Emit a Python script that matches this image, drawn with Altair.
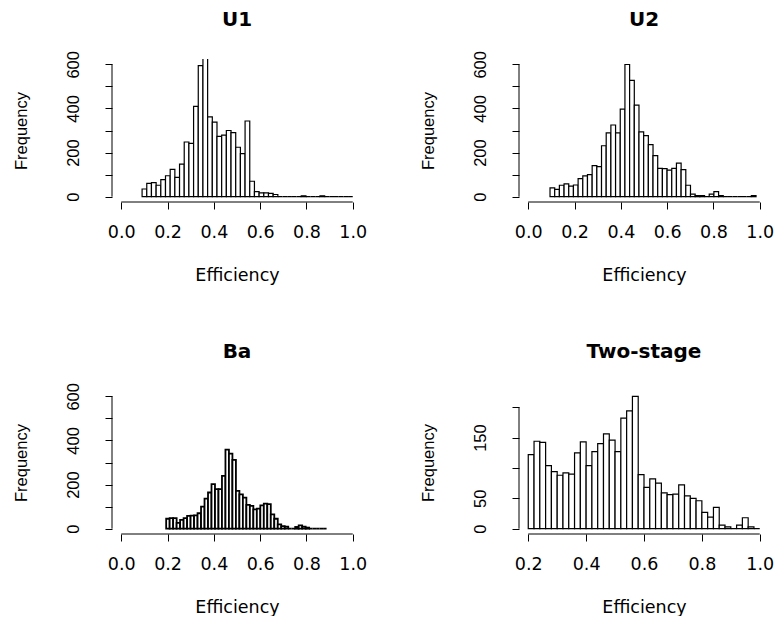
import altair as alt
import pandas as pd

# Bin counts of each efficiency histogram, left to right.
# Bins are equal-width between the given lower and upper break.
u1_counts = [35, 60, 64, 52, 77, 95, 124, 88, 148, 248, 242, 409, 594, 650, 362,
             338, 273, 279, 300, 290, 224, 195, 343, 70, 23, 17, 17, 15, 10, 0,
             0, 0, 0, 0, 4, 0, 0, 0, 4, 0, 0, 0, 0, 0, 0]
u1_breaks = (0.09, 1.0)

u2_counts = [40, 33, 52, 58, 48, 53, 82, 94, 100, 141, 136, 231, 289, 325, 289,
             397, 599, 527, 415, 294, 277, 236, 186, 128, 127, 120, 128, 152, 123, 52,
             12, 5, 5, 0, 12, 23, 5, 0, 0, 0, 0, 0, 0, 5]
u2_breaks = (0.094, 0.984)

ba_counts = [45, 48, 48, 26, 40, 48, 58, 59, 60, 70, 100, 136, 164, 202, 179,
             179, 239, 358, 340, 312, 171, 156, 141, 108, 103, 88, 91, 106, 114, 111,
             65, 45, 20, 12, 9, 0, 0, 8, 15, 9, 5, 0, 0, 0, 0, 0]
ba_breaks = (0.194, 0.887)

two_counts = [122, 144, 142, 104, 94, 88, 92, 90, 125, 143, 104, 127, 140, 156, 146,
              127, 182, 194, 218, 89, 68, 82, 75, 59, 56, 57, 72, 54, 50, 46,
              27, 19, 35, 6, 3, 0, 6, 18, 3, 0]
two_breaks = (0.2, 1.0)

# Axis ticks and which tick values carry a printed label
eff_ticks = [0.0, 0.2, 0.4, 0.6, 0.8, 1.0]
eff_ticks_two = [0.2, 0.4, 0.6, 0.8, 1.0]
freq_ticks = [0, 100, 200, 300, 400, 500, 600]
freq_shown = [0, 200, 400, 600]
freq_ticks_two = [0, 50, 100, 150, 200]
freq_shown_two = [0, 50, 150]

H_FONT = "DejaVu Sans"
V_FONT = "Liberation Sans"
PANEL_W = 250
PANEL_H = 143


def bins_frame(counts, breaks):
    lo, hi = breaks
    n = len(counts)
    w = (hi - lo) / n
    return pd.DataFrame({
        "start": [lo + i * w for i in range(n)],
        "end": [lo + (i + 1) * w for i in range(n)],
        "count": counts,
    })


def extend(lim):
    span = lim[1] - lim[0]
    return [lim[0] - 0.04 * span, lim[1] + 0.04 * span]


def panel(title, counts, breaks, xlim, xticks, ylim, yticks, yshown, bar_stroke=1.2):
    df = bins_frame(counts, breaks)
    xdom = extend(xlim)
    ydom = extend(ylim)
    shown = ",".join(str(v) for v in yshown)

    x_scale = alt.Scale(domain=xdom, nice=False, zero=False)
    y_scale = alt.Scale(domain=ydom, nice=False, zero=False)
    x_axis = alt.Axis(
        values=xticks, format=".1f", title="Efficiency",
        domain=False, grid=False, tickSize=7, tickColor="black",
        tickWidth=1, labelFont=H_FONT, labelFontSize=17.5,
        labelColor="black", labelPadding=14, labelFlush=False,
        labelOverlap=False, titleFont=H_FONT, titleFontSize=17.5,
        titleFontWeight="normal", titleColor="black", titlePadding=26,
    )
    y_axis = alt.Axis(
        values=yticks,
        labelExpr=f"indexof([{shown}], datum.value) >= 0 ? datum.label : ''",
        title="Frequency", domain=False, grid=False, tickSize=7,
        tickColor="black", tickWidth=1, labelAngle=270,
        labelAlign="center", labelBaseline="bottom", labelFont=V_FONT,
        labelFontSize=16.5, labelColor="black", labelPadding=24,
        labelFlush=False, labelOverlap=False, titleFont=V_FONT,
        titleFontSize=16.5, titleFontWeight="normal",
        titleColor="black", titlePadding=36,
    )

    bars = alt.Chart(df).mark_rect(
        fill="white", stroke="black", strokeWidth=bar_stroke, clip=True
    ).encode(
        x=alt.X("start:Q", scale=x_scale, axis=x_axis),
        x2="end:Q",
        y=alt.Y("count:Q", scale=y_scale, axis=y_axis),
        y2=alt.datum(0),
    )

    # Axis lines running from the first to the last tick
    one = pd.DataFrame({"label": [title]})
    x_line = alt.Chart(one).mark_rule(color="black", strokeWidth=1).encode(
        x=alt.XDatum(xticks[0], scale=x_scale, axis=x_axis),
        x2=alt.datum(xticks[-1]),
        y=alt.YDatum(ydom[0], scale=y_scale, axis=y_axis),
    )
    y_line = alt.Chart(one).mark_rule(color="black", strokeWidth=1).encode(
        x=alt.XDatum(xdom[0], scale=x_scale, axis=x_axis),
        y=alt.YDatum(yticks[0], scale=y_scale, axis=y_axis),
        y2=alt.datum(yticks[-1]),
    )

    # Panel heading, centred above the plotting region
    heading = alt.Chart(one).mark_text(
        font=H_FONT, fontSize=20, fontWeight="bold", color="black",
        align="center", baseline="alphabetic",
    ).encode(
        text="label:N",
        x=alt.value(PANEL_W / 2),
        y=alt.value(-33),
    )

    return alt.layer(bars, x_line, y_line, heading).properties(
        width=PANEL_W,
        height=PANEL_H,
    )


u1 = panel("U1", u1_counts, u1_breaks, (0, 1), eff_ticks, (0, 600), freq_ticks, freq_shown)
u2 = panel("U2", u2_counts, u2_breaks, (0, 1), eff_ticks, (0, 600), freq_ticks, freq_shown)
ba = panel("Ba", ba_counts, ba_breaks, (0, 1), eff_ticks, (0, 600), freq_ticks, freq_shown,
           bar_stroke=1.8)
two = panel("Two-stage", two_counts, two_breaks, two_breaks, eff_ticks_two,
            (0, max(two_counts)), freq_ticks_two, freq_shown_two)

chart = alt.concat(
    u1, u2, ba, two, columns=2,
    spacing={"row": 189, "column": 157}, bounds="flush",
).properties(
    padding={"left": 12, "top": 10, "right": 0, "bottom": 0},
    background="white",
).configure_view(strokeWidth=0)

chart.save("out.html", embed_options={"renderer": "svg", "actions": False})
